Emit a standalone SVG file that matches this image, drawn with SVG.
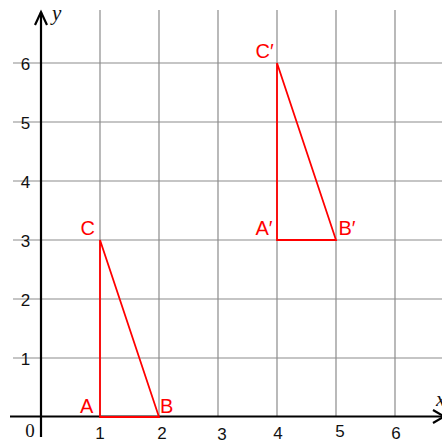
<svg xmlns="http://www.w3.org/2000/svg" width="442" height="442" viewBox="0 0 442 442">
<style>
.grid{stroke:#8c8c8c;stroke-width:1.2;fill:none}
.axis{stroke:#000;stroke-width:2.2;fill:none}
.tri{stroke:#ff0000;stroke-width:1.8;fill:none;stroke-linejoin:miter}
.num{font-family:"Liberation Sans",Arial,sans-serif;font-size:17px;fill:#111}
.lbl{font-family:"Liberation Sans",Arial,sans-serif;font-size:20px;fill:#ff0000}
.var{font-family:"Liberation Serif","Times New Roman",serif;font-style:italic;font-size:21px;fill:#111}
</style>
<rect width="442" height="442" fill="#fff"/>
<g id="grid" class="grid">
<path d="M100,10V417M159,10V417M218,10V417M277,10V417M336,10V417M395,10V417"/>
<path d="M13,63H442M13,122H442M13,181H442M13,240H442M13,299H442M13,358H442"/>
</g>
<g id="axes" class="axis">
<path d="M41,437V12"/>
<path d="M35,25L41,12L47,25"/>
<path d="M10,416.5H442"/>
<path d="M433,410L444,416.5L433,423"/>
</g>
<g id="axis-labels">
<text class="var" x="52" y="20">y</text>
<text class="var" x="436" y="406">x</text>
<text class="num" x="25.5" y="70" text-anchor="middle">6</text>
<text class="num" x="25.5" y="129" text-anchor="middle">5</text>
<text class="num" x="25.5" y="188" text-anchor="middle">4</text>
<text class="num" x="25.5" y="247" text-anchor="middle">3</text>
<text class="num" x="25.5" y="306" text-anchor="middle">2</text>
<text class="num" x="25.5" y="365" text-anchor="middle">1</text>
<text x="30" y="437" text-anchor="middle" style="font-family:'Liberation Serif','Times New Roman',serif;font-size:19px;fill:#111">0</text>
<text class="num" x="100" y="439" text-anchor="middle">1</text>
<text class="num" x="162" y="439" text-anchor="middle">2</text>
<text class="num" x="222" y="440" text-anchor="middle">3</text>
<text class="num" x="278" y="439" text-anchor="middle">4</text>
<text class="num" x="340" y="437" text-anchor="middle">5</text>
<text class="num" x="396" y="439" text-anchor="middle">6</text>
</g>
<g id="triangle-ABC">
<path class="tri" d="M100,417L159,417L100,240Z"/>
<text class="lbl" x="80" y="412.5">A</text>
<text class="lbl" x="160" y="412.5">B</text>
<text class="lbl" x="80.5" y="234.5">C</text>
</g>
<g id="triangle-A1B1C1">
<path class="tri" d="M277,240L336,240L277,63Z"/>
<text class="lbl" x="255.5" y="235">A′</text>
<text class="lbl" x="338.5" y="235">B′</text>
<text class="lbl" x="255.5" y="58">C′</text>
</g>
</svg>
